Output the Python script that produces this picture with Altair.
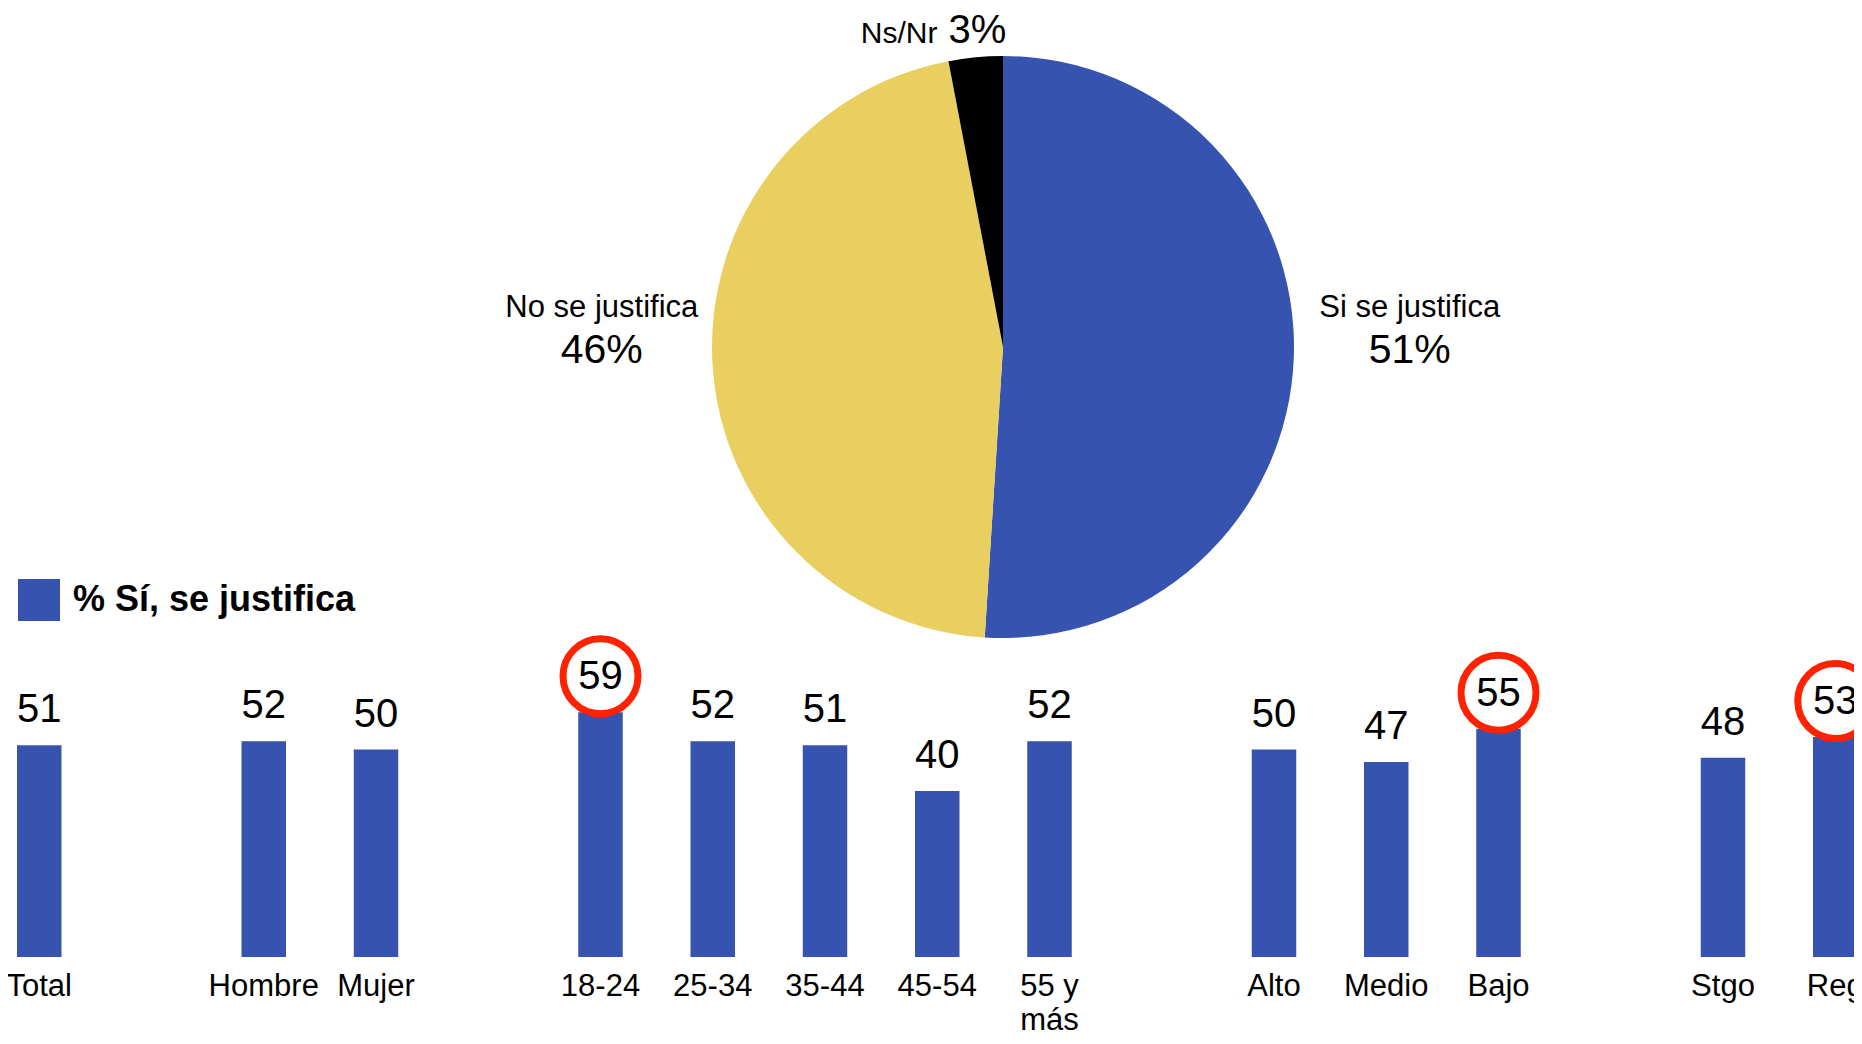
import altair as alt
import pandas as pd

# ---- data ----
pie_labels = ["Si se justifica", "No se justifica", "Ns/Nr"]
pie_values = [51, 46, 3]
pie_colors = ["#3653B0", "#E9CF60", "#000000"]

groups = [
    ["Total"],
    ["Hombre", "Mujer"],
    ["18-24", "25-34", "35-44", "45-54", "55 y\nmás"],
    ["Alto", "Medio", "Bajo"],
    ["Stgo", "Reg"],
]
bar_values = [51, 52, 50, 59, 52, 51, 40, 52, 50, 47, 55, 48, 53]
highlighted = ["18-24", "Bajo", "Reg"]
series_name = "% Sí, se justifica"
bar_color = "#3653B0"

categories = [c for g in groups for c in g]
domain = []
for i, g in enumerate(groups):
    if i:
        domain.append(f"gap{i}")
    domain.extend(g)

pie_df = pd.DataFrame({"cat": pie_labels, "pct": pie_values, "ord": list(range(len(pie_labels)))})
bar_df = pd.DataFrame({"cat": categories, "value": bar_values, "serie": series_name})

FONT = "Liberation Sans"
CX, CY = 995, 339

# ---- pie ----
pie_base = alt.Chart(pie_df).encode(
    theta=alt.Theta("pct:Q", stack=True),
    order=alt.Order("ord:Q"),
    x=alt.value(CX),
    y=alt.value(CY),
)
pie = pie_base.mark_arc(outerRadius=291).encode(
    color=alt.Color("cat:N", scale=alt.Scale(domain=pie_labels, range=pie_colors), legend=None)
)


def slice_label(cat, expr, radius, size, **kw):
    return pie_base.transform_calculate(
        t=f"datum.cat == '{cat}' ? {expr} : ''"
    ).mark_text(radius=radius, baseline="alphabetic", font=FONT, fontSize=size, color="black", **kw).encode(text="t:N")


pie_texts = [
    slice_label("Si se justifica", "datum.cat", 404, 31, dx=3, dy=-43),
    slice_label("Si se justifica", "datum.pct + '%'", 404, 41, dx=3, dy=3),
    slice_label("No se justifica", "datum.cat", 404, 31, dx=2, dy=-55),
    slice_label("No se justifica", "datum.pct + '%'", 404, 41, dx=2, dy=-9),
    slice_label("Ns/Nr", "datum.cat", 304, 30, dx=-37, dy=-1, align="right"),
    slice_label("Ns/Nr", "datum.pct + '%'", 304, 40, dx=-26, dy=-1, align="left"),
]

# ---- bars ----
xsc = alt.Scale(domain=domain, range=[9, 1849.5], paddingInner=0.6036, paddingOuter=0)
ysc = alt.Scale(domain=[0, 100], range=[949, 534])

bar_base = alt.Chart(bar_df).encode(x=alt.X("cat:N", scale=xsc, axis=None))

bars = bar_base.mark_bar().encode(
    y=alt.Y("value:Q", scale=ysc, axis=None),
    color=alt.Color(
        "serie:N",
        scale=alt.Scale(domain=[series_name], range=[bar_color]),
        legend=alt.Legend(
            title=None, orient="none", legendX=10, legendY=571,
            symbolType="square", symbolSize=1764, symbolStrokeWidth=0,
            labelFont=FONT, labelFontSize=36, labelFontWeight="bold",
            labelColor="black", labelOffset=13, labelLimit=600, padding=0,
            labelBaseline="middle",
        ),
    ),
)
value_text = bar_base.mark_text(dy=-23, baseline="alphabetic", font=FONT, fontSize=40, color="black").encode(
    y=alt.Y("value:Q", scale=ysc, axis=None),
    text=alt.Text("value:Q", format="d"),
)
circles = bar_base.transform_filter(
    alt.FieldOneOfPredicate(field="cat", oneOf=highlighted)
).transform_calculate(cy="datum.value + 36 / 4.15").mark_point(
    shape="circle", size=5625, strokeWidth=7, color="#FF2200", filled=False, opacity=1
).encode(y=alt.Y("cy:Q", scale=ysc, axis=None))
cat_labels = bar_base.mark_text(
    baseline="alphabetic", font=FONT, fontSize=31, color="black", lineBreak="\n", lineHeight=34
).encode(y=alt.value(988), text="cat:N")

chart = alt.layer(
    pie, *pie_texts, bars, value_text, circles, cat_labels
).resolve_scale(color="independent").properties(
    width=1846, height=1028, autosize="none", padding=0
).configure_view(stroke=None)

chart.save("out.html", embed_options={"renderer": "svg", "actions": False})
